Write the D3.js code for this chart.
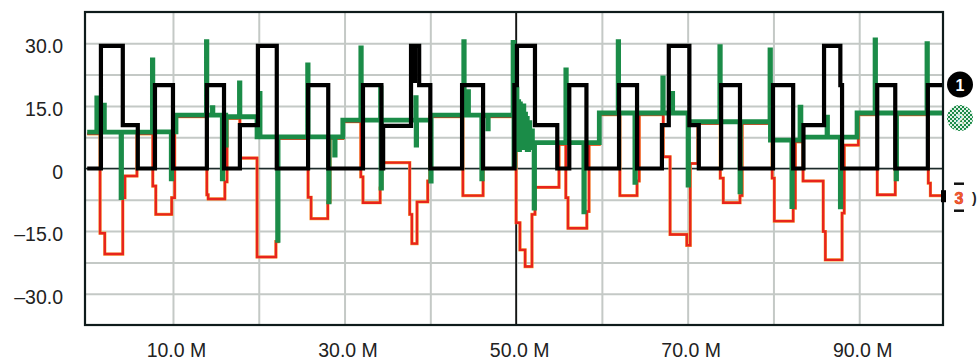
<!DOCTYPE html>
<html>
<head>
<meta charset="utf-8">
<script src="https://cdn.jsdelivr.net/npm/d3@7"></script>
<style>
  body { margin: 0; background: #fff; }
  svg { display: block; }
  text { font-family: "Liberation Sans", Arial, Helvetica, sans-serif; }
</style>
</head>
<body>
<svg id="chart" width="977" height="362"></svg>
<script>
// Time base (M) and amplitude ticks
const xGridTicks = [10, 20, 30, 40, 50, 60, 70, 80, 90];
const xLabelTicks = [10, 30, 50, 70, 90];
const yGridTicks = [-30, -22.5, -15, -7.5, 0, 7.5, 15, 22.5, 30];
const yLabelTicks = [30, 15, 0, -15, -30];
const cursorTime = 50;

// Channel 1 (black): [time M, level], held until the next time
const ch1 = [
  [0, 0], [1.6, 29.4], [4.15, 10.4], [5.9, 0], [7.9, 20], [10.0, 0], [13.95, 20], [15.95, 0],
  [17.8, 10.4], [19.9, 29.4], [22.1, 0], [25.75, 20], [28.1, 0], [32.15, 20], [34.3, 0], [34.5, 10.2],
  [37.75, 29.4], [38.15, 21], [38.2, 29.4], [38.7, 20], [40.0, 0], [43.7, 20], [46.15, 0], [49.8, 20],
  [50.1, 29.4], [52.2, 10.4], [54.8, 0], [56.2, 20], [58.2, 0], [62.0, 20], [64.1, 0], [67.0, 10.4],
  [67.8, 29.4], [70.2, 10.4], [71.3, 0], [73.9, 20], [76.1, 0], [79.95, 20], [82.3, 0], [83.5, 10.4],
  [85.9, 29.4], [87.8, 20], [88.0, 0], [92.1, 20], [94.2, 0], [98.0, 20], [100, 20]
];

// Channel 2 (green)
const ch2 = [
  [0, 8.7], [1.12, 16.9], [1.17, 8.7], [1.95, 15.2], [2.0, 8.7], [3.95, -7], [4.0, 8.7], [7.6, 26],
  [7.65, 8.8], [9.8, -2.5], [9.85, 8.8], [10.35, 12.8], [13.9, 30.4], [13.95, 12.8], [14.6, 14.6],
  [14.65, 12.8], [15.75, -2.5], [15.8, 12.8], [16.15, 5.6], [16.2, 12.4], [17.75, 20.5], [17.8, 12.4],
  [19.8, 7.6], [20.1, 18], [20.15, 7.6], [22.2, -17.2], [22.25, 7.6], [25.7, 24.8], [25.75, 7.6],
  [28.15, -8], [28.2, 7.6], [28.85, 3.2], [28.9, 7.6], [29.8, 11.6], [31.9, 28.9], [31.95, 11.6],
  [34.2, 19.3], [34.25, -4.7], [34.3, 11.6], [38.3, 17], [38.35, 5.6], [38.4, 11.6], [40.05, -3],
  [40.1, 12.8], [43.9, 30.4], [43.95, 12.8], [44.4, 18.4], [44.45, 12.8], [46.0, -2.5], [46.05, 12.8],
  [46.7, 9.5], [46.75, 12.8], [49.65, 30.2], [49.75, 0.5], [49.85, 13], [50.0, 19], [50.1, 5],
  [50.2, 16], [50.3, 4.5], [50.4, 15.5], [50.5, 5], [50.6, 14], [50.7, 5.5], [50.8, 15], [50.9, 6],
  [51.0, 13], [51.1, 5], [51.2, 12], [51.3, 4.5], [51.45, 11], [51.6, 5], [51.75, 9], [51.9, 5],
  [52.1, -9.5], [52.15, 6.2], [55.8, 23.6], [55.85, 6.2], [57.9, -10.4], [57.95, 6.2], [59.7, 13.3],
  [61.9, 30.4], [61.95, 13.3], [63.85, -3.3], [63.9, 13.3], [67.1, 21.7], [67.15, 13.3], [68.2, 18],
  [68.25, 13.3], [70.05, -4], [70.1, 11.2], [73.75, 29.2], [73.8, 11.2], [76.1, -5.6], [76.15, 11.2],
  [79.6, 28.4], [79.65, 6.8], [82.15, -9.1], [82.2, 6.8], [83.1, 14.7], [83.2, 7.5], [86.25, 12.3],
  [86.3, 7.5], [87.8, -9.2], [87.85, 7.5], [89.75, 13.3], [91.85, 30.8], [91.9, 13.3], [94.3, -2.5],
  [94.35, 13.3], [97.9, 29.9], [97.95, 13.3], [100, 13.3]
];

// Channel 3 (red)
const ch3 = [
  [0, 8.3], [1.5, -15.5], [2.05, -20.5], [4.15, -7], [4.4, -1.8], [5.8, 8.3], [7.65, -4.2], [8.0, -11],
  [9.85, -7], [10.2, 12.4], [13.95, -6.3], [14.1, -7.3], [16.05, -3.2], [16.3, 12.0], [17.8, 2.5],
  [19.8, -21.2], [22.0, -17.5], [22.25, 7.2], [25.75, -6.9], [26.1, -12], [28.05, -8], [28.3, 7.2],
  [29.8, 11.2], [31.9, -2], [32.15, -8.2], [34.15, -4.7], [34.35, 1.4], [37.6, -11], [37.85, -18],
  [38.45, -8], [39.7, -3], [39.95, 12.4], [43.8, -6.5], [46.15, 12.4], [50.0, -13], [50.45, -19.5],
  [51.05, -23.5], [51.85, -11], [52.2, -4.5], [55.0, 5.8], [55.8, -7], [56.05, -14.3], [58.25, -10.3],
  [58.5, 5.8], [59.7, 12.9], [62.1, -6.5], [64.1, -3], [64.35, 12.9], [67.15, 2.8], [67.95, -15.8],
  [69.9, -18.4], [70.3, 1.2], [71.2, 10.8], [73.8, -2.3], [74.15, -8.2], [76.1, -6.5], [76.35, 10.8],
  [79.85, -2.3], [80.1, -12.6], [82.3, -9.5], [82.55, 6.4], [83.45, -3], [85.8, -15.1], [86.05, -21.9],
  [88.0, -10.7], [88.25, 5.6], [89.9, 12.9], [92.1, -6.3], [94.2, 12.9], [98.05, -3.5], [98.3, -6.5],
  [100, -6.5]
];

const channelLabels = ["1", "2", "3"];

// ---- layout ----
const frame = { left: 85, right: 943, top: 12, bottom: 325 };
const svg = d3.select("#chart");

const x = d3.scaleLinear().domain([0, 100]).range([87.2, 945]);
const y = d3.scaleLinear().domain([-37.5, 37.5]).range([frame.bottom, frame.top]);

const defs = svg.append("defs");
defs.append("clipPath").attr("id", "plotClip")
  .append("rect")
  .attr("x", frame.left).attr("y", frame.top)
  .attr("width", frame.right - frame.left).attr("height", frame.bottom - frame.top);

const checker = defs.append("pattern").attr("id", "checker")
  .attr("width", 4).attr("height", 4).attr("patternUnits", "userSpaceOnUse");
checker.append("rect").attr("width", 4).attr("height", 4).attr("fill", "#1a8a46");
checker.append("rect").attr("width", 2).attr("height", 2).attr("fill", "#dff0e6");
checker.append("rect").attr("x", 2).attr("y", 2).attr("width", 2).attr("height", 2).attr("fill", "#dff0e6");

// ---- grid ----
const grid = svg.append("g").attr("clip-path", "url(#plotClip)");
grid.append("g")
  .attr("transform", `translate(0,${frame.bottom})`)
  .call(d3.axisBottom(x).tickValues(xGridTicks).tickSize(-(frame.bottom - frame.top)).tickFormat(""))
  .call(g => g.select(".domain").remove())
  .call(g => g.selectAll("line").attr("stroke", "#c4c9c6").attr("stroke-width", 2));
grid.append("g")
  .attr("transform", `translate(${frame.left},0)`)
  .call(d3.axisLeft(y).tickValues(yGridTicks).tickSize(-(frame.right - frame.left)).tickFormat(""))
  .call(g => g.select(".domain").remove())
  .call(g => g.selectAll("line").attr("stroke", "#c4c9c6").attr("stroke-width", 2));

// zero reference and time cursor
svg.append("line")
  .attr("x1", frame.left).attr("x2", frame.right)
  .attr("y1", y(0)).attr("y2", y(0))
  .attr("stroke", "#1d2b2b").attr("stroke-width", 1.4);
svg.append("line")
  .attr("x1", x(cursorTime)).attr("x2", x(cursorTime))
  .attr("y1", frame.top).attr("y2", frame.bottom)
  .attr("stroke", "#000").attr("stroke-width", 1.6);

// ---- traces ----
const trace = d3.line()
  .x(d => x(d[0]))
  .y(d => y(d[1]))
  .curve(d3.curveStepAfter);

const traces = svg.append("g").attr("clip-path", "url(#plotClip)");
traces.append("path").datum(ch3).attr("d", trace)
  .attr("fill", "none").attr("stroke", "#f7a640").attr("stroke-width", 3.2)
  .attr("stroke-linejoin", "miter");
traces.append("path").datum(ch3).attr("d", trace)
  .attr("fill", "none").attr("stroke", "#e8241c").attr("stroke-width", 2.4)
  .attr("stroke-linejoin", "miter");
traces.append("path").datum(ch2).attr("d", trace)
  .attr("fill", "none").attr("stroke", "#1b8c48").attr("stroke-width", 4.8)
  .attr("stroke-linejoin", "miter");
traces.append("path").datum(ch1).attr("d", trace)
  .attr("fill", "none").attr("stroke", "#000").attr("stroke-width", 4.2)
  .attr("stroke-linejoin", "miter");

// frame
svg.append("rect")
  .attr("x", frame.left).attr("y", frame.top)
  .attr("width", frame.right - frame.left).attr("height", frame.bottom - frame.top)
  .attr("fill", "none").attr("stroke", "#0e1b1b").attr("stroke-width", 2.2);

// ---- axis labels ----
const fmtY = d => d === 0 ? "0" : (d < 0 ? "\u2013" : "") + Math.abs(d).toFixed(1);
svg.append("g")
  .attr("transform", `translate(63,0)`)
  .call(d3.axisLeft(y).tickValues(yLabelTicks).tickSize(0).tickPadding(0).tickFormat(fmtY))
  .call(g => g.select(".domain").remove())
  .call(g => g.selectAll("text")
    .attr("dy", null).attr("y", 9.5).attr("x", 0)
    .attr("text-anchor", "end")
    .attr("font-size", 19.5).attr("fill", "#222")
    .style("font-family", '"Liberation Sans", Arial, sans-serif'));

svg.append("g")
  .attr("transform", `translate(0,${frame.bottom})`)
  .call(d3.axisBottom(x).tickValues(xLabelTicks).tickSize(0).tickFormat(d => d.toFixed(1) + " M"))
  .call(g => g.select(".domain").remove())
  .call(g => g.selectAll("text")
    .attr("dy", null).attr("y", 32).attr("dx", 3)
    .attr("font-size", 19.5).attr("fill", "#222")
    .style("font-family", '"Liberation Sans", Arial, sans-serif'));

// ---- channel markers at the right edge ----
const m1 = svg.append("g").attr("transform", `translate(960,${y(20.1)})`);
m1.append("circle").attr("r", 13).attr("fill", "#000");
m1.append("text").text(channelLabels[0]).attr("text-anchor", "middle").attr("y", 6)
  .attr("font-size", 16).attr("font-weight", "bold").attr("fill", "#fff");

const m2 = svg.append("g").attr("transform", `translate(960,${y(12.1)})`);
m2.append("circle").attr("r", 13).attr("fill", "url(#checker)");
m2.append("text").text(channelLabels[1]).attr("text-anchor", "middle").attr("y", 6)
  .attr("font-size", 15).attr("font-weight", "bold").attr("fill", "#e9f6ee").attr("opacity", 0.8);

svg.append("rect").attr("x", 941).attr("y", y(-5.2)).attr("width", 5).attr("height", 12).attr("fill", "#000");
const m3 = svg.append("g").attr("transform", `translate(959,${y(-7)})`);
m3.append("line").attr("x1", -5).attr("x2", 5).attr("y1", -14).attr("y2", -14).attr("stroke", "#111").attr("stroke-width", 2.5);
m3.append("line").attr("x1", -5).attr("x2", 5).attr("y1", 13).attr("y2", 13).attr("stroke", "#111").attr("stroke-width", 2.5);
m3.append("text").text(channelLabels[2]).attr("text-anchor", "middle").attr("y", 6)
  .attr("font-size", 16).attr("font-weight", "bold").attr("fill", "#f26a2a")
  .attr("stroke", "#e0241c").attr("stroke-width", 0.6);
m3.append("text").text(")").attr("x", 13).attr("y", 5)
  .attr("font-size", 14).attr("font-weight", "bold").attr("fill", "#222");
</script>
</body>
</html>
